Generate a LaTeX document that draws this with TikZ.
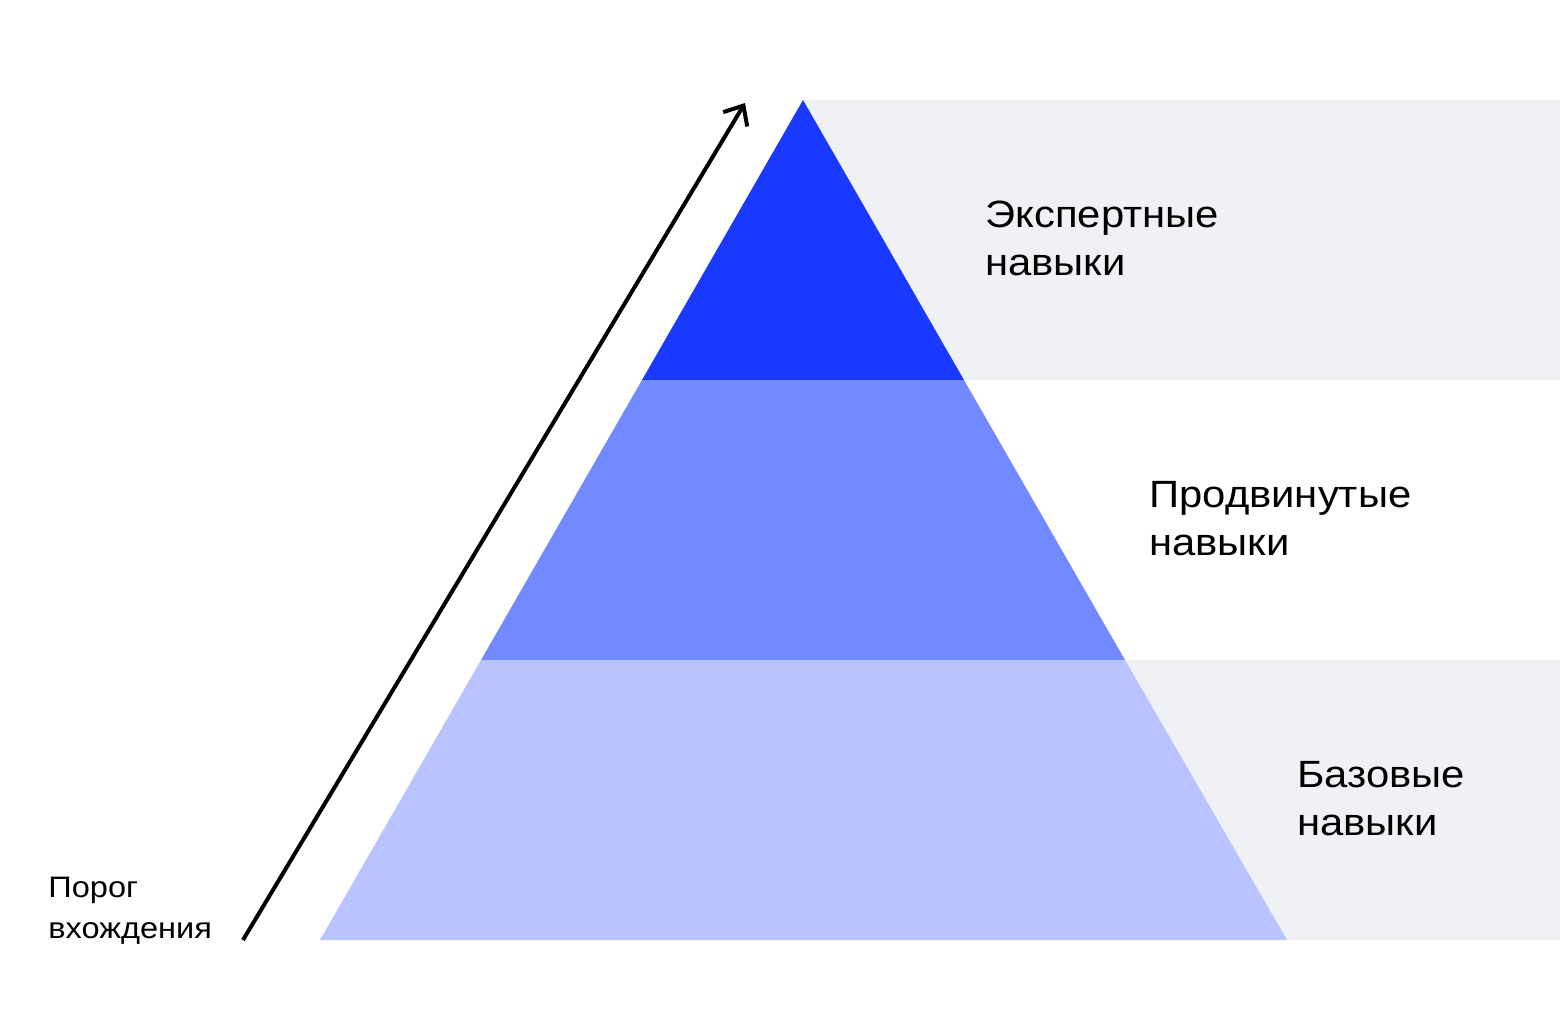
\documentclass[tikz,border=0pt]{standalone}
\usepackage{fontspec}
\setmainfont[FakeStretch=1.1]{Liberation Sans}
\usetikzlibrary{positioning, arrows.meta}

\definecolor{expert}{HTML}{1939FF}
\definecolor{advanced}{HTML}{7389FF}
\definecolor{basic}{HTML}{B8C3FF}
\definecolor{panel}{HTML}{F0F1F5}

\begin{document}
\begin{tikzpicture}[
    x=0.5pt, y=-0.5pt,
    level/.style={font=\fontsize{19}{24}\selectfont, align=left, anchor=base west, inner sep=0pt},
    arrow/.style={-{Straight Barb[length=8pt, width=14pt]}, line width=2pt}
]
    \useasboundingbox (0,0) rectangle (1560,1008);

    % gray bands behind the pyramid
    \fill [panel] (803,100) rectangle (1560,380);
    \fill [panel] (1100,660) rectangle (1560,940);

    % pyramid levels
    \coordinate (apex) at (803,100);
    \fill [expert] (apex) -- (964,380) -- (642,380) -- cycle;
    \fill [advanced] (642,380) -- (964,380) -- (1125,660) -- (481,660) -- cycle;
    \fill [basic] (481,660) -- (1125,660) -- (1287,940) -- (320,940) -- cycle;

    % base anchor sits on the last line
    \node (expertlbl) [level] at (985,275) {Экспертные\\навыки};
    \node (advancedlbl) [level] at (1149,555) {Продвинутые\\навыки};
    \node (basiclbl) [level] at (1297,835) {Базовые\\навыки};

    % entry threshold arrow
    \coordinate (start) at (243,940);
    \coordinate (top) at (745,103);
    \draw [arrow] (start) -- (top);
    \node (threshold) [level, font=\fontsize{14.8}{20.5}\selectfont] at (48,938) {Порог\\вхождения};
\end{tikzpicture}
\end{document}
